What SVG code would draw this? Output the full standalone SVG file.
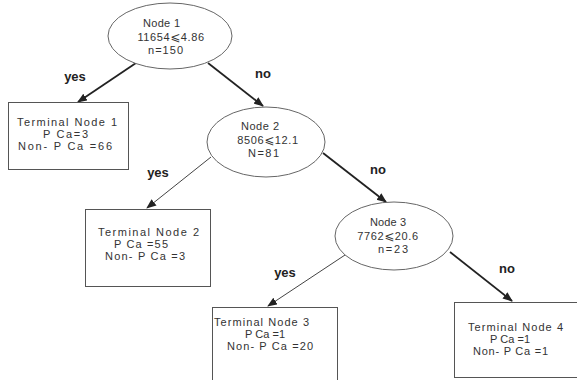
<svg xmlns="http://www.w3.org/2000/svg" width="577" height="380" viewBox="0 0 577 380">
<style>
.bg{fill:#fff}
.node ellipse{fill:#fff;stroke:#666;stroke-width:1}
.node rect{fill:#fff;stroke:#555;stroke-width:1}
.t{font-family:"Liberation Sans",Arial,sans-serif;font-size:11px;fill:#333}
.m{text-anchor:middle;letter-spacing:0.6px}
.le{font-family:"DejaVu Sans",sans-serif;font-size:12px}
.lbl{font-family:"Liberation Sans",Arial,sans-serif;font-size:13px;font-weight:bold;fill:#222;text-anchor:middle}
.thick{stroke:#222;stroke-width:1.8;fill:none}
.thin{stroke:#444;stroke-width:1;fill:none}
</style>
<defs>
<marker id="ah" markerUnits="userSpaceOnUse" markerWidth="11" markerHeight="9" refX="9" refY="4" orient="auto">
<path d="M0,0 L10,4 L0,8 z" fill="#222"/>
</marker>
</defs>
<rect class="bg" x="0" y="0" width="577" height="380"/>
<g id="connectors">
<line class="thick" x1="136" y1="63" x2="78" y2="102" marker-end="url(#ah)"/>
<line class="thick" x1="208" y1="63" x2="263" y2="106" marker-end="url(#ah)"/>
<line class="thin" x1="211" y1="157" x2="147" y2="208" marker-end="url(#ah)"/>
<line class="thick" x1="323" y1="153" x2="386" y2="202" marker-end="url(#ah)"/>
<line class="thin" x1="345" y1="255" x2="268" y2="306" marker-end="url(#ah)"/>
<line class="thick" x1="450" y1="252" x2="512" y2="301" marker-end="url(#ah)"/>
<text class="lbl" x="75" y="81">yes</text>
<text class="lbl" x="263" y="78">no</text>
<text class="lbl" x="158" y="177">yes</text>
<text class="lbl" x="378" y="174">no</text>
<text class="lbl" x="285" y="277">yes</text>
<text class="lbl" x="507" y="273">no</text>
</g>
<g id="node1" class="node">
<ellipse cx="170" cy="36" rx="62" ry="33"/>
<text class="t" x="143" y="27" textLength="37">Node 1</text>
<text class="t m" x="171" y="41">11654<tspan class="le">⩽</tspan>4.86</text>
<text class="t" x="148" y="54" textLength="35">n=150</text>
</g>
<g id="terminal1" class="node">
<rect x="8.5" y="102.5" width="120" height="67"/>
<text class="t" x="17" y="126" textLength="100">Terminal Node 1</text>
<text class="t" x="43" y="138" textLength="45">P Ca=3</text>
<text class="t" x="18" y="150" textLength="94">Non- P Ca =66</text>
</g>
<g id="node2" class="node">
<ellipse cx="266" cy="142" rx="59" ry="35"/>
<text class="t" x="241" y="130" textLength="38">Node 2</text>
<text class="t m" x="268" y="144">8506<tspan class="le">⩽</tspan>12.1</text>
<text class="t" x="248" y="157" textLength="31">N=81</text>
</g>
<g id="terminal2" class="node">
<rect x="85.5" y="209.5" width="125" height="77"/>
<text class="t" x="98" y="236" textLength="101">Terminal Node 2</text>
<text class="t" x="114" y="248" textLength="54">P Ca =55</text>
<text class="t" x="105" y="260" textLength="80">Non- P Ca =3</text>
</g>
<g id="node3" class="node">
<ellipse cx="394" cy="236" rx="59" ry="34"/>
<text class="t" x="370" y="226" textLength="36">Node 3</text>
<text class="t m" x="388" y="240">7762<tspan class="le">⩽</tspan>20.6</text>
<text class="t" x="378" y="253" textLength="30">n=23</text>
</g>
<g id="terminal3" class="node">
<rect x="212.5" y="307.5" width="125" height="80"/>
<text class="t" x="214" y="326" textLength="95">Terminal Node 3</text>
<text class="t" x="245" y="338" textLength="40">P Ca =1</text>
<text class="t" x="227" y="350" textLength="86">Non- P Ca =20</text>
</g>
<g id="terminal4" class="node">
<rect x="454.5" y="302.5" width="130" height="75"/>
<text class="t" x="468" y="331" textLength="95">Terminal Node 4</text>
<text class="t" x="490" y="343" textLength="40">P Ca =1</text>
<text class="t" x="473" y="355" textLength="75">Non- P Ca =1</text>
</g>
</svg>
